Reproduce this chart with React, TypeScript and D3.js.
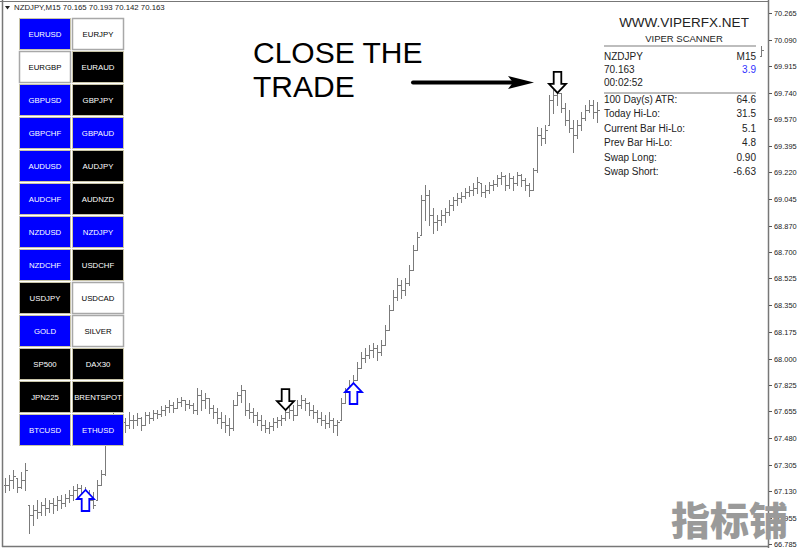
import React from "react";
import * as d3 from "d3";

const symbolTitle = "NZDJPY,M15";
const headerOhlc = ["70.165", "70.193", "70.142", "70.163"];

// M15 bars (open = previous close)
const highs = [
  67.218, 67.237, 67.27, 67.218, 67.257, 67.316, 67.041, 67.041, 67.073, 67.06,
  67.087, 67.073, 67.087, 67.1, 67.106, 67.113, 67.139, 67.165, 67.178, 67.172,
  67.159, 67.139, 67.126, 67.205, 67.27, 67.467, 67.565, 67.644, 67.611, 67.631,
  67.611, 67.65, 67.631, 67.644, 67.618, 67.65, 67.65, 67.663, 67.663, 67.69,
  67.696, 67.729, 67.716, 67.742, 67.748, 67.729, 67.729, 67.709, 67.807, 67.794,
  67.775, 67.742, 67.696, 67.677, 67.65, 67.631, 67.611, 67.729, 67.781, 67.827,
  67.794, 67.709, 67.677, 67.65, 67.631, 67.598, 67.585, 67.611, 67.618, 67.631,
  67.677, 67.683, 67.696, 67.729, 67.762, 67.742, 67.716, 67.696, 67.663, 67.65,
  67.631, 67.65, 67.611, 67.598, 67.742, 67.807, 67.86, 67.893, 67.978, 68.043,
  68.07, 68.089, 68.102, 68.089, 68.122, 68.22, 68.351, 68.45, 68.528, 68.515,
  68.528, 68.613, 68.744, 68.83, 69.072, 69.138, 69.105, 68.987, 68.941, 68.974,
  68.987, 69.039, 69.059, 69.085, 69.092, 69.118, 69.131, 69.151, 69.19, 69.151,
  69.138, 69.157, 69.17, 69.203, 69.223, 69.203, 69.216, 69.197, 69.223, 69.21,
  69.184, 69.151, 69.249, 69.518, 69.511, 69.531, 69.727, 69.76, 69.773, 69.741,
  69.675, 69.629, 69.564, 69.564, 69.616, 69.662, 69.695, 69.695, 69.682,
  70.049,
];
const lows = [
  67.126, 67.139, 67.152, 67.126, 67.152, 67.139, 66.857, 66.91, 66.955, 66.975,
  66.975, 66.995, 66.988, 67.008, 67.021, 67.034, 67.06, 67.073, 67.087, 67.093,
  67.073, 67.041, 67.021, 67.073, 67.172, 67.237, 67.434, 67.519, 67.499, 67.519,
  67.519, 67.545, 67.545, 67.565, 67.532, 67.565, 67.578, 67.598, 67.611, 67.624,
  67.631, 67.65, 67.65, 67.677, 67.69, 67.663, 67.677, 67.644, 67.637, 67.663,
  67.677, 67.644, 67.611, 67.578, 67.545, 67.519, 67.499, 67.532, 67.696, 67.716,
  67.631, 67.611, 67.585, 67.565, 67.532, 67.519, 67.513, 67.532, 67.552, 67.565,
  67.598, 67.611, 67.598, 67.631, 67.677, 67.663, 67.631, 67.611, 67.585, 67.565,
  67.545, 67.552, 67.519, 67.499, 67.598, 67.709, 67.762, 67.807, 67.86, 67.938,
  67.978, 68.004, 68.011, 67.991, 68.024, 68.089, 68.187, 68.319, 68.384, 68.397,
  68.417, 68.482, 68.58, 68.712, 68.81, 68.908, 68.876, 68.823, 68.843, 68.876,
  68.895, 68.941, 68.974, 69.007, 69.026, 69.052, 69.066, 69.072, 69.085, 69.066,
  69.059, 69.085, 69.105, 69.131, 69.144, 69.105, 69.118, 69.105, 69.138, 69.131,
  69.105, 69.066, 69.105, 69.223, 69.4, 69.413, 69.531, 69.609, 69.662, 69.616,
  69.531, 69.485, 69.354, 69.446, 69.498, 69.564, 69.616, 69.577, 69.551,
  69.983,
];
const closes = [
  67.172, 67.205, 67.231, 67.159, 67.205, 67.27, 66.975, 67.008, 66.995, 67.041,
  67.021, 67.054, 67.041, 67.073, 67.054, 67.087, 67.106, 67.139, 67.152, 67.126,
  67.106, 67.073, 67.041, 67.172, 67.244, 67.434, 67.532, 67.598, 67.565, 67.585,
  67.565, 67.598, 67.598, 67.611, 67.565, 67.631, 67.611, 67.644, 67.637, 67.663,
  67.683, 67.696, 67.677, 67.716, 67.729, 67.703, 67.696, 67.663, 67.762, 67.729,
  67.742, 67.677, 67.65, 67.611, 67.585, 67.565, 67.545, 67.696, 67.762, 67.794,
  67.663, 67.65, 67.631, 67.598, 67.565, 67.545, 67.558, 67.585, 67.598, 67.611,
  67.65, 67.663, 67.631, 67.696, 67.729, 67.709, 67.663, 67.65, 67.611, 67.598,
  67.578, 67.598, 67.565, 67.585, 67.709, 67.781, 67.827, 67.86, 67.938, 68.004,
  68.024, 68.056, 68.07, 68.043, 68.089, 68.187, 68.319, 68.404, 68.482, 68.45,
  68.495, 68.58, 68.712, 68.797, 69.039, 69.072, 68.941, 68.895, 68.908, 68.941,
  68.961, 69.007, 69.039, 69.052, 69.066, 69.092, 69.105, 69.118, 69.157, 69.092,
  69.105, 69.138, 69.144, 69.184, 69.197, 69.138, 69.184, 69.151, 69.203, 69.17,
  69.138, 69.105, 69.236, 69.465, 69.446, 69.498, 69.695, 69.727, 69.741, 69.642,
  69.564, 69.511, 69.465, 69.531, 69.577, 69.629, 69.662, 69.616, 69.629,
  70.022,
];
// bar slot on the time axis; the bars in between sit behind the scanner panel
const slots = [...d3.range(0, 149), 189];

const priceTicks = [
  "70.265", "70.090", "69.915", "69.740", "69.570", "69.395", "69.220",
  "69.045", "68.870", "68.700", "68.525", "68.350", "68.175", "68.000",
  "67.825", "67.655", "67.480", "67.305", "67.130", "66.955", "66.785",
];

// arrow objects: bar slot, price at the arrow tip, direction
const signalSlots = [20, 70, 87, 138];
const signalPrices = [67.139, 67.663, 67.84, 69.741];
const signalDirs = ["up", "down", "up", "down"];

const buttonLabels = [
  ["EURUSD", "EURJPY"], ["EURGBP", "EURAUD"], ["GBPUSD", "GBPJPY"],
  ["GBPCHF", "GBPAUD"], ["AUDUSD", "AUDJPY"], ["AUDCHF", "AUDNZD"],
  ["NZDUSD", "NZDJPY"], ["NZDCHF", "USDCHF"], ["USDJPY", "USDCAD"],
  ["GOLD", "SILVER"], ["SP500", "DAX30"], ["JPN225", "BRENTSPOT"],
  ["BTCUSD", "ETHUSD"],
];
const buttonStates = [
  ["b", "w"], ["w", "k"], ["b", "k"], ["b", "b"], ["b", "k"], ["b", "k"],
  ["b", "b"], ["b", "k"], ["k", "w"], ["b", "w"], ["k", "k"], ["k", "k"],
  ["b", "b"],
];

const panelHeadLeft = ["NZDJPY", "70.163", "00:02:52"];
const panelHeadRight = ["M15", "3.9", ""];
const panelLabels = [
  "100 Day(s) ATR:", "Today Hi-Lo:", "Current Bar Hi-Lo:",
  "Prev Bar Hi-Lo:", "Swap Long:", "Swap Short:",
];
const panelValues = ["64.6", "31.5", "5.1", "4.8", "0.90", "-6.63"];

const W = 800;
const H = 548;
const FONT = "'Liberation Sans', Arial, sans-serif";

export default function App() {
  const y = d3.scaleLinear().domain([66.785, 70.265]).range([544, 13]);
  const x = d3.scaleLinear().domain([0, 189]).range([5, 761]);
  const barColor = "#7b7b7b";

  const bars = slots.map((s, i) => {
    const prev = i === 0 ? closes[0] : closes[i - 1];
    const open = Math.min(highs[i], Math.max(lows[i], prev));
    return { s, open, high: highs[i], low: lows[i], close: closes[i] };
  });

  const arrowPath = (dir: string) => {
    // tip at (0,0)
    const p = [
      [0, 0], [8.5, 9], [3.8, 9], [3.8, 21], [-3.8, 21], [-3.8, 9], [-8.5, 9],
    ];
    const k = dir === "up" ? 1 : -1;
    return "M" + p.map(([a, b]) => `${a},${b * k}`).join("L") + "Z";
  };

  return (
    <svg
      width={W}
      height={H}
      style={{ position: "absolute", left: 0, top: 0, background: "#fff" }}
      fontFamily={FONT}
    >
      <rect x={0} y={0} width={W} height={H} fill="#fff" />

      {/* price bars */}
      <g stroke={barColor} strokeWidth={1} shapeRendering="crispEdges">
        {bars.map((b, i) => {
          const cx = Math.round(x(b.s)) + 0.5;
          return (
            <g key={i}>
              <line x1={cx} x2={cx} y1={y(b.high)} y2={y(b.low) + 1} />
              <line x1={cx - 2} x2={cx} y1={Math.round(y(b.open)) + 0.5} y2={Math.round(y(b.open)) + 0.5} />
              <line x1={cx} x2={cx + 2} y1={Math.round(y(b.close)) + 0.5} y2={Math.round(y(b.close)) + 0.5} />
            </g>
          );
        })}
      </g>

      {/* symbol buttons */}
      {buttonLabels.map((row, r) =>
        row.map((label, c) => {
          const st = buttonStates[r][c];
          const bx = 19 + c * 53;
          const by = 18 + r * 33;
          const fill = st === "b" ? "#0000ff" : st === "k" ? "#000" : "#fff";
          return (
            <g key={label}>
              <rect
                x={bx + 0.5}
                y={by + 0.5}
                width={51}
                height={31}
                fill={fill}
                stroke={st === "w" ? "#a8a8a8" : "#c8c4a8"}
                strokeWidth={st === "w" ? 1.5 : 1}
              />
              <text
                x={bx + 26}
                y={by + 16}
                dy="0.35em"
                textAnchor="middle"
                fontSize={7.8}
                fill={st === "w" ? "#000" : "#fff"}
              >
                {label}
              </text>
            </g>
          );
        })
      )}

      {/* scanner panel */}
      <rect x={600} y={4} width={160} height={184} fill="#fff" />
      <text x={684} y={27} textAnchor="middle" fontSize={13.5} fill="#222">
        WWW.VIPERFX.NET
      </text>
      <text x={684} y={41.5} textAnchor="middle" fontSize={9.5} fill="#222">
        VIPER SCANNER
      </text>
      <line x1={604} x2={756} y1={46} y2={46} stroke="#bdbdbd" strokeWidth={2} />
      <line x1={604} x2={756} y1={93} y2={93} stroke="#bdbdbd" strokeWidth={2} />
      {panelHeadLeft.map((t, i) => (
        <g key={t} fontSize={10}>
          <text x={604} y={59.5 + i * 13.2} fill="#222">{t}</text>
          <text
            x={756}
            y={59.5 + i * 13.2}
            textAnchor="end"
            fill={i === 1 ? "#3030ff" : "#222"}
          >
            {panelHeadRight[i]}
          </text>
        </g>
      ))}
      {panelLabels.map((t, i) => (
        <g key={t} fontSize={10} fill="#222">
          <text x={604} y={103 + i * 14.4}>{t}</text>
          <text x={756} y={103 + i * 14.4} textAnchor="end">{panelValues[i]}</text>
        </g>
      ))}

      {/* signal arrows */}
      {signalSlots.map((s, i) => {
        const up = signalDirs[i] === "up";
        return (
          <path
            key={i}
            transform={`translate(${Math.round(x(s)) + 0.5},${y(signalPrices[i])})`}
            d={arrowPath(signalDirs[i])}
            fill="#fff"
            stroke={up ? "#0000ff" : "#000"}
            strokeWidth={1.8}
            strokeLinejoin="miter"
          />
        );
      })}

      {/* annotation */}
      <text x={253} y={63} fontSize={30} fill="#000">CLOSE THE</text>
      <text x={253} y={97} fontSize={30} fill="#000">TRADE</text>
      <line x1={413} x2={515} y1={82.5} y2={82.5} stroke="#000" strokeWidth={4} strokeLinecap="round" />
      <path d="M508,76 L534,82.5 L508,89 L513,82.5 Z" fill="#000" />

      {/* frame and price scale */}
      <g stroke="#777" fill="none">
        <line x1={2.5} x2={2.5} y1={0} y2={547} strokeWidth={1.5} />
        <line x1={0} x2={769} y1={1.5} y2={1.5} />
        <line x1={2} x2={769} y1={546.5} y2={546.5} strokeWidth={1.5} />
        <line x1={768.5} x2={768.5} y1={0} y2={548} strokeWidth={1.5} />
      </g>
      {priceTicks.map((t) => {
        const ty = Math.round(y(+t)) + 0.5;
        return (
          <g key={t}>
            <line x1={769} x2={772} y1={ty} y2={ty} stroke="#555" />
            <text x={774} y={ty} dy="0.35em" fontSize={7.4} fill="#222">
              {t}
            </text>
          </g>
        );
      })}

      {/* header */}
      <path d="M5,6 L10,6 L7.5,9.5 Z" fill="#222" />
      <text x={14} y={10} fontSize={7.8} fill="#222">
        {symbolTitle + "  " + headerOhlc.join(" ")}
      </text>

      {/* watermark, drawn over the price scale as in the screenshot */}
      <text
        x={671}
        y={535}
        fontSize={39}
        fontWeight={900}
        fill="#9a9a9a"
        fontFamily="'Noto Sans CJK SC', sans-serif"
      >
        指标铺
      </text>
    </svg>
  );
}
